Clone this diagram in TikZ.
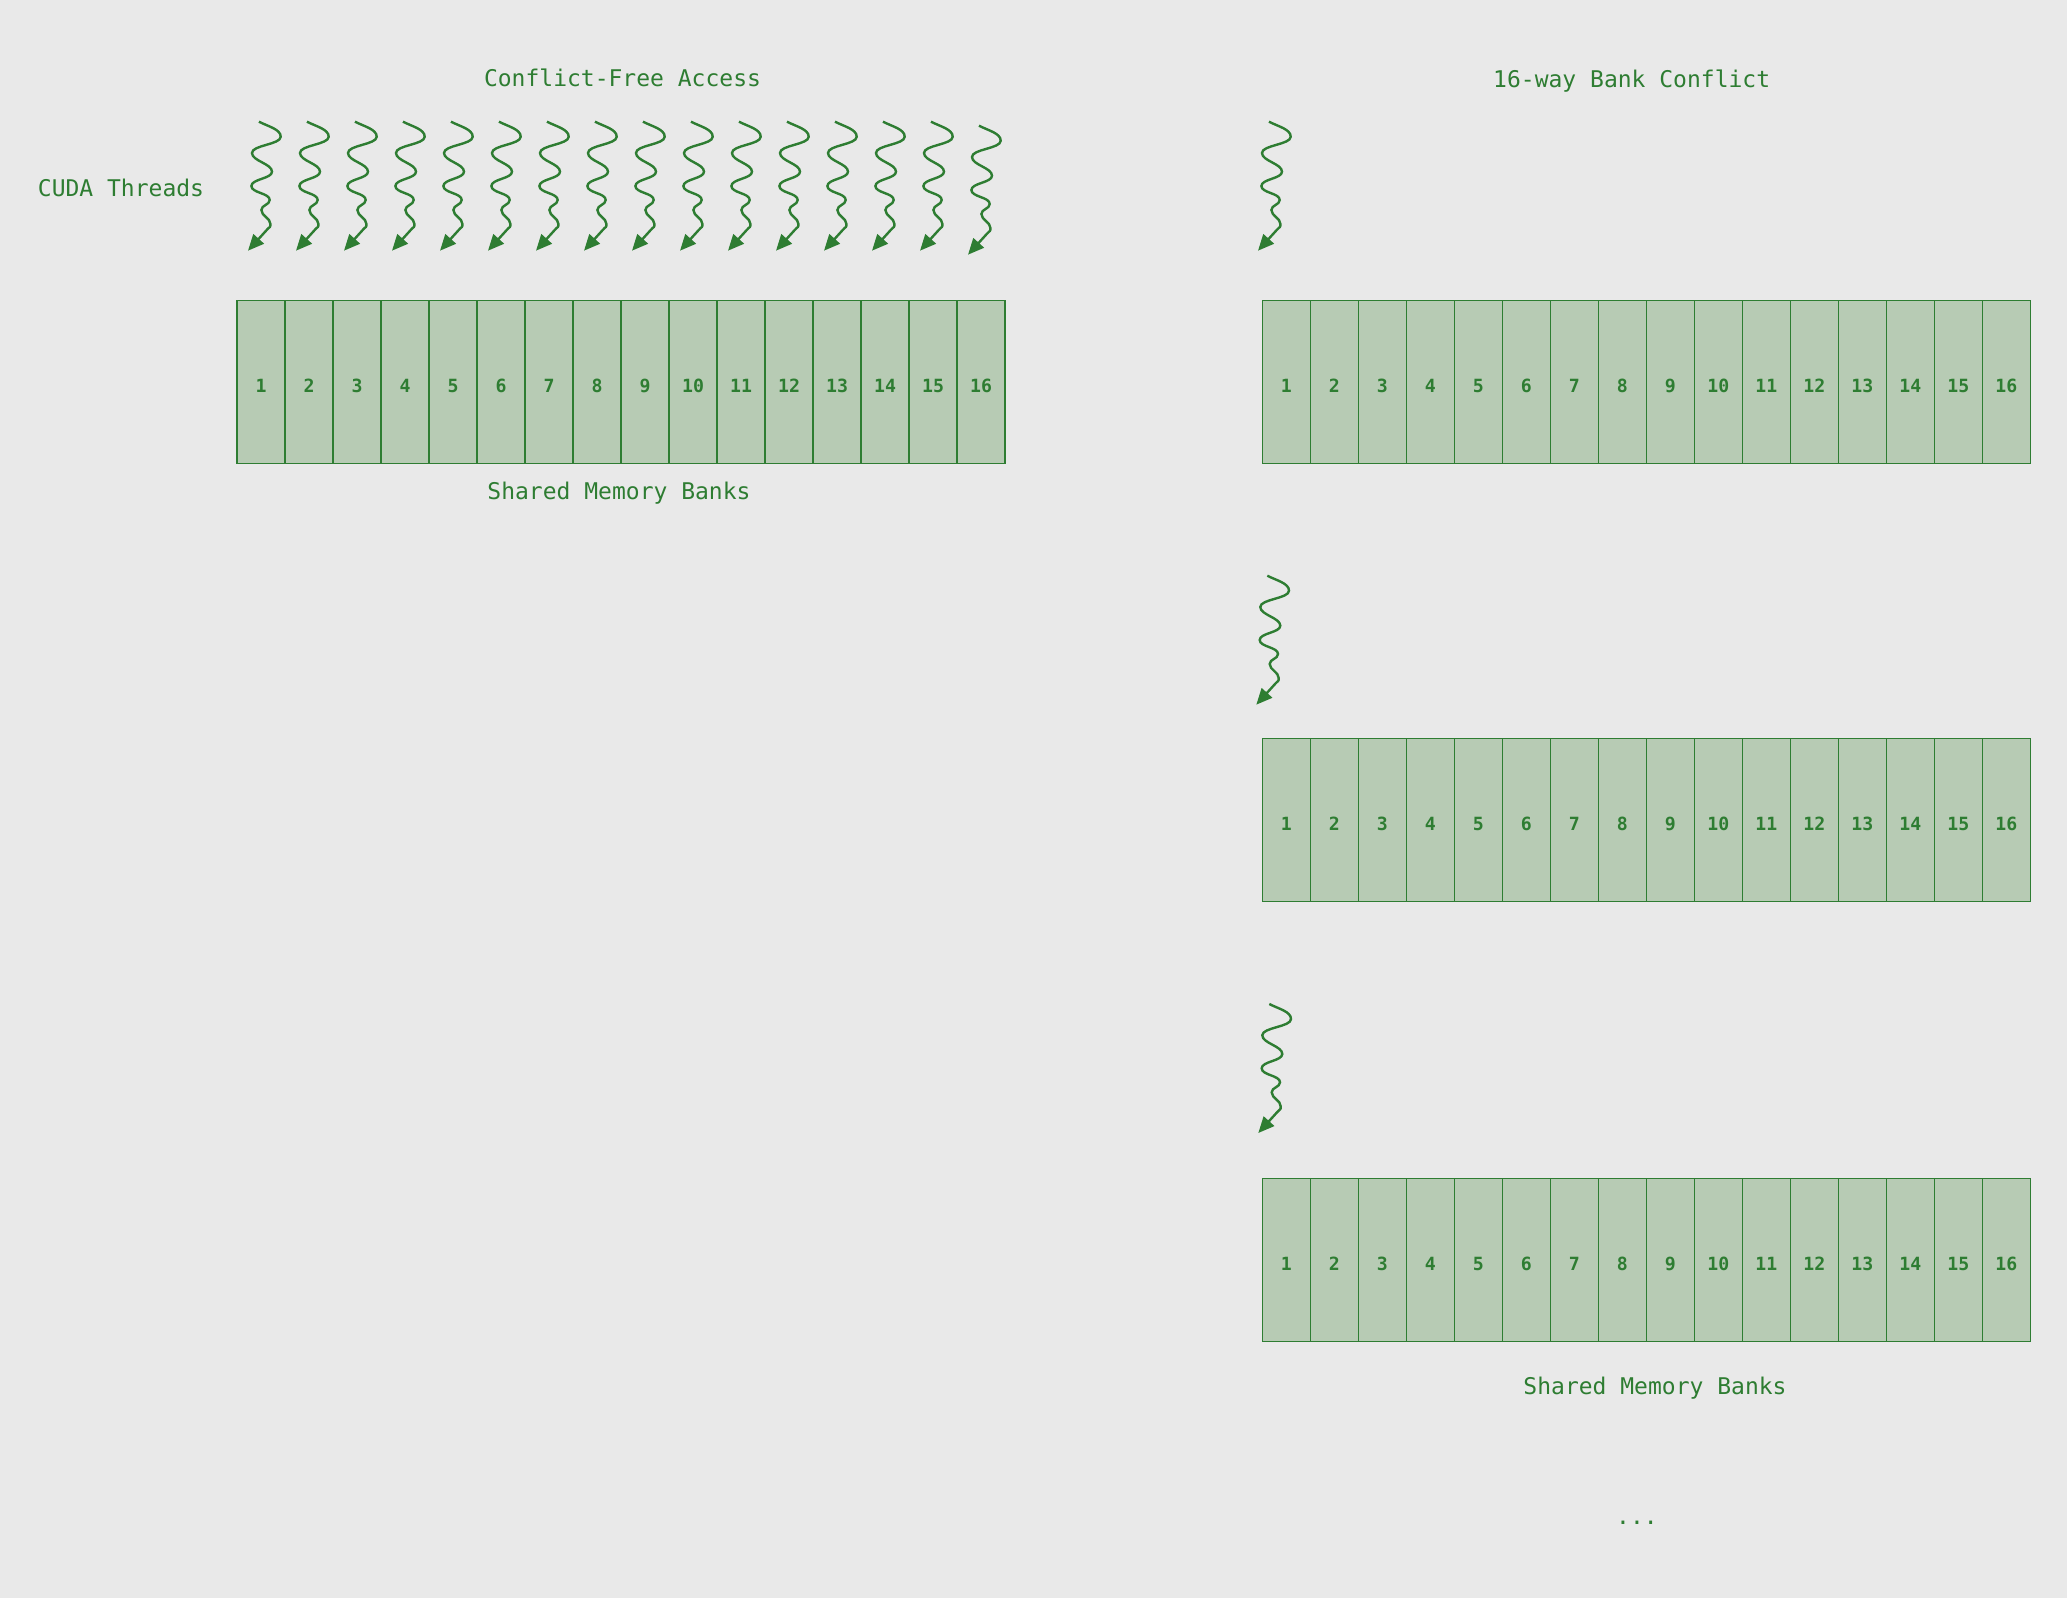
\documentclass[tikz,border=0pt]{standalone}
\usepackage{fontspec}
\setmonofont{DejaVu Sans Mono}
\usetikzlibrary{arrows.meta}

\definecolor{bggray}{HTML}{E9E9E9}
\definecolor{cudagreen}{HTML}{2E7D32}
\definecolor{bankfill}{HTML}{B7CBB4}

\tikzset{
  bank/.style={draw=cudagreen, line width=0.6pt, fill=bankfill,
    minimum width=24pt, minimum height=81.5pt, inner sep=0pt,
    text=cudagreen, text height=10.5pt,
    font=\ttfamily\bfseries\fontsize{9.1}{11}\selectfont},
  caption/.style={text=cudagreen, anchor=base, inner sep=0pt,
    font=\ttfamily\fontsize{11.5}{14}\selectfont},
  thread/.style={draw=cudagreen, line width=1.2pt,
    -{Triangle[length=8pt,width=7pt]}}
}

% wavy thread arrow, upper end at (#1,#2)
\newcommand{\cudathread}[2]{%
  \begin{scope}[shift={({#1},{#2})}]
    \draw[thread] (0,0) .. controls (9,4.7) and (21.7,7.5) .. (21.7,15)
      .. controls +(0,8) and +(0,-8) .. (-7,31.3)
      .. controls +(0,8) and +(0,-8) .. (13,50)
      .. controls +(0,7) and +(0,-7) .. (-7.6,64.3)
      .. controls +(0,7) and +(0,-7) .. (10.7,78.3)
      .. controls +(0,5) and +(0,-5) .. (2.4,88.3)
      .. controls +(0,6) and +(0,-6) .. (11.4,102.3)
      .. controls +(0,4) and +(3,-3.5) .. (8,108) -- (-11,129);
  \end{scope}}

\begin{document}
\begin{tikzpicture}[x=0.5pt, y=-0.5pt]
    % --- background / page size ---
    \fill[bggray] (0,0) rectangle (2067,1598);
    \useasboundingbox (0,0) rectangle (2067,1598);

    % --- conflict-free access (left) ---
    \node[caption] (free-title) at (622.5,87) {Conflict-Free Access};
    \node[caption] (threads) at (121,196.7) {CUDA Threads};

    \foreach \i in {0,...,14}
        \cudathread{259+48*\i}{121.7};
    \cudathread{979}{125.7}; % last one sits a bit lower

    \foreach \i in {1,...,16}
        \node[bank] (free-\i) at ({213+48*\i},381.8) {\i};

    \node[caption] (free-banks) at (619,499.3) {Shared Memory Banks};

    % --- 16-way bank conflict (right) ---
    \node[caption] (conf-title) at (1631.7,87.5) {16-way Bank Conflict};

    \cudathread{1269}{121.7};
    \cudathread{1267.3}{575.7};
    \cudathread{1269.3}{1004};

    \foreach \i in {1,...,16} {
        \node[bank] (confa-\i) at ({1238.3+48*\i},381.8) {\i};
        \node[bank] (confb-\i) at ({1238.3+48*\i},819.8) {\i};
        \node[bank] (confc-\i) at ({1238.3+48*\i},1260.1) {\i};
    }

    \node[caption] (conf-banks) at (1655,1394.3) {Shared Memory Banks};
    \node[caption] (dots) at (1637,1524) {...};

\end{tikzpicture}
\end{document}
